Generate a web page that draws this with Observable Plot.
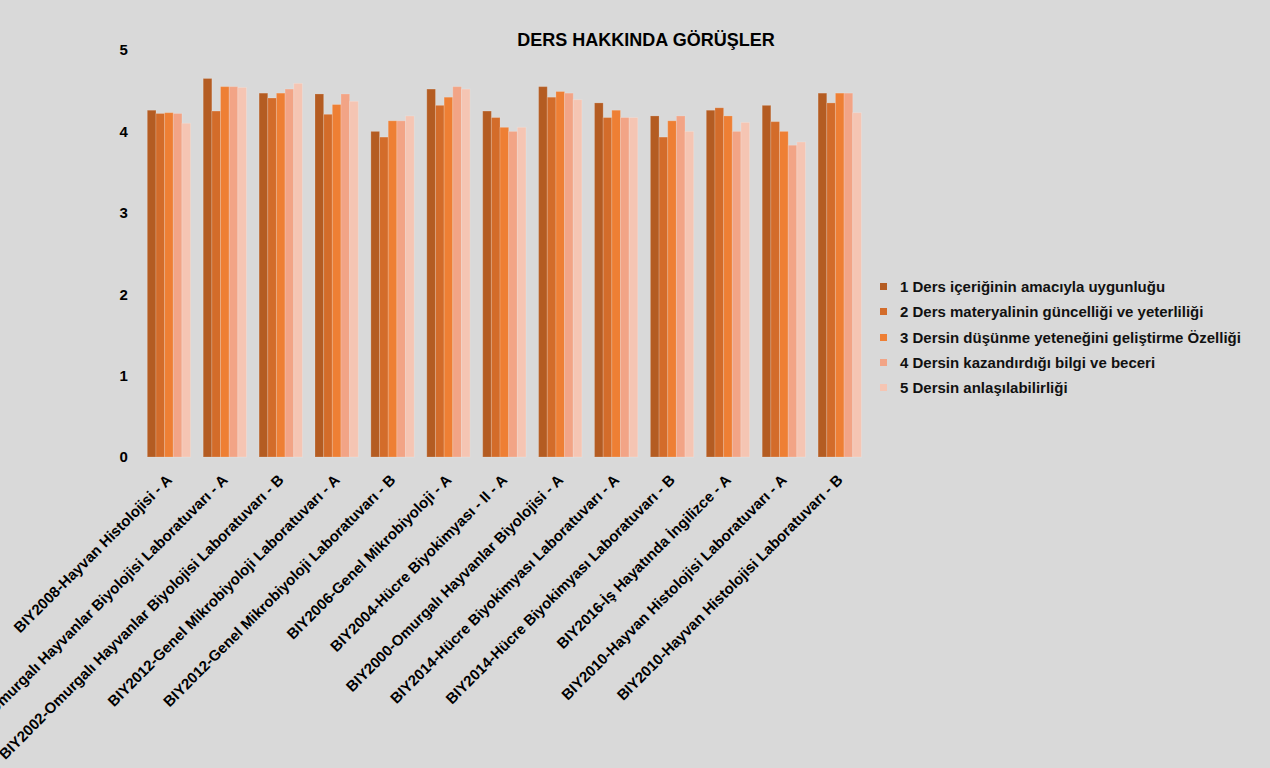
<!DOCTYPE html>
<html>
<head>
<meta charset="utf-8">
<script src="https://cdn.jsdelivr.net/npm/d3@7"></script>
<script src="https://cdn.jsdelivr.net/npm/@observablehq/plot@0.6"></script>
<style>
  body { margin: 0; background: #d9d9d9; font-family: "Liberation Sans", Arial, sans-serif; }
  #wrap { position: relative; width: 1270px; height: 768px; background: #d9d9d9; overflow: hidden; }
  #title { position: absolute; left: 0; width: 1292px; top: 30px; text-align: center; font-weight: bold; font-size: 18px; color: #000; }
  #legend { position: absolute; left: 880px; top: 277px; font-weight: bold; font-size: 15px; color: #111; }
  .row { height: 25.3px; line-height: 20px; white-space: nowrap; }
  .sw { display: inline-block; width: 7px; height: 7px; margin-right: 13px; vertical-align: 2px; }
</style>
</head>
<body>
<div id="wrap">
  <div id="chart"></div>
  <div id="title"></div>
  <div id="legend"></div>
</div>
<script>
const title = "DERS HAKKINDA GÖRÜŞLER";
const categories = [
  "BIY2008-Hayvan Histolojisi - A",
  "BIY2002-Omurgalı Hayvanlar Biyolojisi Laboratuvarı - A",
  "BIY2002-Omurgalı Hayvanlar Biyolojisi Laboratuvarı - B",
  "BIY2012-Genel Mikrobiyoloji Laboratuvarı - A",
  "BIY2012-Genel Mikrobiyoloji Laboratuvarı - B",
  "BIY2006-Genel Mikrobiyoloji - A",
  "BIY2004-Hücre Biyokimyası - II - A",
  "BIY2000-Omurgalı Hayvanlar Biyolojisi - A",
  "BIY2014-Hücre Biyokimyası Laboratuvarı - A",
  "BIY2014-Hücre Biyokimyası Laboratuvarı - B",
  "BIY2016-İş Hayatında İngilizce - A",
  "BIY2010-Hayvan Histolojisi Laboratuvarı - A",
  "BIY2010-Hayvan Histolojisi Laboratuvarı - B"
];
const seriesNames = [
  "1 Ders içeriğinin amacıyla uygunluğu",
  "2 Ders materyalinin güncelliği ve yeterliliği",
  "3 Dersin düşünme yeteneğini geliştirme Özelliği",
  "4 Dersin kazandırdığı bilgi ve beceri",
  "5 Dersin anlaşılabilirliği"
];
const s1 = [4.26, 4.65, 4.47, 4.46, 4.00, 4.52, 4.25, 4.55, 4.35, 4.19, 4.26, 4.32, 4.47];
const s2 = [4.22, 4.25, 4.41, 4.21, 3.93, 4.32, 4.17, 4.42, 4.17, 3.93, 4.29, 4.12, 4.35];
const s3 = [4.23, 4.55, 4.47, 4.33, 4.13, 4.42, 4.05, 4.49, 4.26, 4.13, 4.19, 4.00, 4.47];
const s4 = [4.22, 4.55, 4.52, 4.46, 4.13, 4.55, 4.00, 4.47, 4.17, 4.19, 4.00, 3.83, 4.47];
const s5 = [4.10, 4.54, 4.59, 4.37, 4.19, 4.52, 4.05, 4.39, 4.17, 4.00, 4.11, 3.87, 4.23];
const yTicks = [0, 1, 2, 3, 4, 5];
const colors = ["#b45c22", "#d36c2a", "#ee7f34", "#f2a486", "#f5c5b3"];

const allSeries = [s1, s2, s3, s4, s5];

const W = 1270, ML = 147.3, MR = 408.6, PI = 0.2254;
const step = (W - ML - MR) / (categories.length - PI);
const bw = step * (1 - PI);
const sub = bw / seriesNames.length;

const barMarks = allSeries.map((s, j) =>
  Plot.barY(categories.map((c, i) => ({course: c, series: seriesNames[j], value: s[i]})), {
    x: "course", y: "value", fill: "series",
    insetLeft: j * sub, insetRight: (seriesNames.length - 1 - j) * sub,
    stroke: "#ffffff", strokeOpacity: 0.18, strokeWidth: 1
  })
);

const chart = Plot.plot({
  width: W,
  height: 768,
  marginLeft: ML,
  marginRight: MR,
  marginTop: 50,
  marginBottom: 311,
  style: {background: "#d9d9d9", fontFamily: "'Liberation Sans', Arial, sans-serif", fontWeight: "bold", fontSize: "15px", color: "#000"},
  x: {domain: categories, paddingInner: PI, paddingOuter: 0, round: false, label: null, tickRotate: -45, tickSize: 0, tickPadding: 20},
  y: {domain: [0, 5], ticks: yTicks, tickSize: 0, tickPadding: 20, label: null, tickFormat: d => String(d)},
  color: {domain: seriesNames, range: colors},
  marks: barMarks
});
document.getElementById("chart").appendChild(chart);
document.getElementById("title").textContent = title;
const lg = document.getElementById("legend");
seriesNames.forEach((n, i) => {
  const r = document.createElement("div");
  r.className = "row";
  r.innerHTML = `<span class="sw" style="background:${colors[i]}"></span>${n}`;
  lg.appendChild(r);
});
</script>
</body>
</html>
